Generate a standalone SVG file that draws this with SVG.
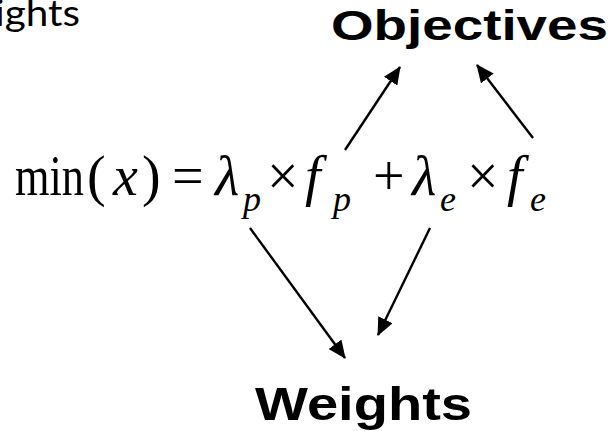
<svg xmlns="http://www.w3.org/2000/svg" width="615" height="431" viewBox="0 0 615 431">
  <defs>
    <style>
      .lbl { font-family: "Liberation Sans", Arial, sans-serif; font-weight: bold; fill: #000; }
      .eq { font-family: "Liberation Serif", "Times New Roman", serif; fill: #000; }
      .it { font-style: italic; }
      .conn { stroke: #000; stroke-width: 2.4; fill: none; marker-end: url(#ah); }
    </style>
    <marker id="ah" markerUnits="userSpaceOnUse" markerWidth="18" markerHeight="16" viewBox="0 0 18 16" refX="17" refY="8" orient="auto">
      <path d="M0,0 L18,8 L0,16 z" fill="#000"/>
    </marker>
  </defs>
  <rect width="615" height="431" fill="#fff"/>
  <g id="top-fragment">
    <text x="-5" y="26" font-family="Lato, 'Liberation Sans', sans-serif" font-size="37" textLength="85" lengthAdjust="spacingAndGlyphs">ights</text>
  </g>
  <g id="objectives">
    <text class="lbl" x="331" y="40" font-size="42" textLength="277" lengthAdjust="spacingAndGlyphs">Objectives</text>
  </g>
  <g id="equation" class="eq">
    <text x="15" y="195" font-size="56" textLength="69" lengthAdjust="spacingAndGlyphs">min</text>
    <text x="87" y="195" font-size="56">(</text>
    <text class="it" x="113" y="195" font-size="56">x</text>
    <text x="142" y="195" font-size="56">)</text>
    <text x="172" y="195" font-size="56">=</text>
    <text class="it" x="215" y="195" font-size="56">λ</text>
    <text class="it" x="243" y="211" font-size="36">p</text>
    <text x="267" y="195" font-size="56">×</text>
    <text class="it" x="305" y="195" font-size="56">f</text>
    <text class="it" x="333" y="211" font-size="36">p</text>
    <text x="373" y="195" font-size="56">+</text>
    <text class="it" x="412" y="195" font-size="56">λ</text>
    <text class="it" x="440" y="211" font-size="36">e</text>
    <text x="467" y="195" font-size="56">×</text>
    <text class="it" x="507" y="195" font-size="56">f</text>
    <text class="it" x="530" y="211" font-size="36">e</text>
  </g>
  <g id="weights">
    <text class="lbl" x="255" y="420" font-size="46" textLength="217" lengthAdjust="spacingAndGlyphs">Weights</text>
  </g>
  <g id="connectors">
    <line class="conn" x1="345" y1="150" x2="400" y2="67"/>
    <line class="conn" x1="533" y1="138" x2="477" y2="65"/>
    <line class="conn" x1="250" y1="228" x2="345" y2="358"/>
    <line class="conn" x1="430" y1="228" x2="378" y2="335"/>
  </g>
</svg>
